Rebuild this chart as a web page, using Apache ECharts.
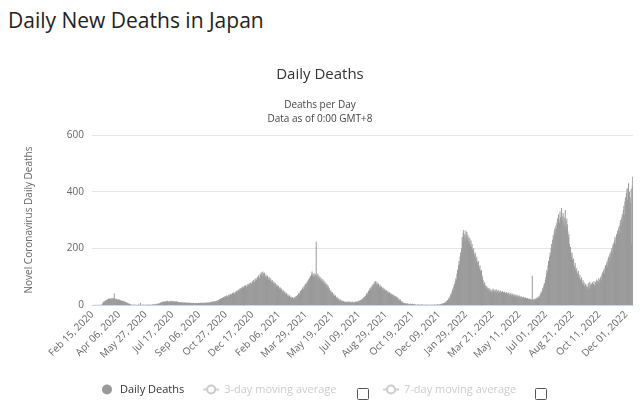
<!DOCTYPE html>
<html>
<head>
<meta charset="utf-8">
<script src="https://cdn.jsdelivr.net/npm/echarts@6/dist/echarts.min.js"></script>
<style>
  body { margin: 0; background: #fff; }
  #title { position: absolute; left: 8px; top: 6px; font: 21px "Open Sans", sans-serif; color: #222; }
  #container { width: 640px; height: 408px; }
</style>
</head>
<body>
<div id="title">Daily New Deaths in Japan</div>
<div id="container"></div>
<script>
// first day of the series
var startDate = Date.UTC(2020, 1, 15);

// daily deaths
var deaths = [
  0,0,0,1,0,0,0,1,0,0,0,1,0,1,0,0,1,0,1,
  3,6,9,12,10,14,16,12,18,15, 20,17,22,19,24,21,18,25,22,20,
  23,26,19,41,24,21,18,22,20,17, 19,16,21,18,15,17,14,16,13,15,
  12,14,11,13,10,9,11,8,7,6, 5,4,3,4,2,
  2,1,1,0,1,2,1,0,1,1, 0,1,0,1,2,1,0,1,8,1, 0,1,0,2,1,0,1,1,0,1,
  1,0,2,1,1,0,1,2,1,0, 1,2,1,3,2,1,3,2,4,3, 2,4,5,3,6,5,
  7,9,8,11,10,12,9,13,11,10, 12,14,11,13,15,12,10,13,14,11,
  12,15,13,11,14,12,10,13,11,12, 10,13,11,9,12,10,11,8,10,9,
  11,8,9,10,7,9,8,10,7,8, 9,7,8,6,9,7,8,6,7,8, 6,7,5,8,6,7,5,6,8,6, 7,5,6,8,6,7,
  6,8,5,7,9,6,8,7,5,9, 7,8,6,9,7,10,8,6,9,11, 8,10,12,9,11,13,10,12,14,11, 13,15,12,16,
  14,18,16,20,17,22,19,24,21,26, 23,28,25,30,27,32,29,34,31,28,
  33,36,30,38,35,40,37,33,42,39, 44,41,38,46,43,50,47,44,52,49,55,51,58,
  54,60,57,63,59,66,62,58,68,64, 70,66,62,72,68,75,71,67,78,74,
  80,76,72,84,79,88,83,78,92,86, 95,89,84,100,94,105,98,92,
  110,104,116,108,100,118,112,106,114,103,
  98,108,100,93,104,96,88,99,91,84, 94,86,79,88,81,74,83,76,70,78,
  71,65,73,66,60,68,61,56,63,57, 52,58,50,45,53,47,42,48,41,37,
  43,36,32,38,31,28,34,29,25,30, 26,23,28,24,21,27,25,30,26,32,29,
  35,31,38,42,37,45,50,44,54,48, 58,63,56,68,62,74,70,78,72,84, 80,90,86,96,92,102,98,108,
  118,105,110,100,112,104,96,108,223,102, 98,110,95,104,92,100,88,96,85,92,
  82,90,78,86,74,80,70,76,66,72, 62,68,56,60,50,
  47,52,44,40,46,38,34,40,32,28, 34,27,24,29,22,19,24,18,16,20,
  15,12,17,13,10,14,11,9,13,10, 12,8,11,9,13,10,8,12,9,11,
  8,10,12,9,7,11,10,8,12,9, 11,13,10,14,12,16,13,
  15,18,16,20,22,19,25,28,24,30, 33,29,38,42,36,45,50,44,55,60,
  52,64,58,70,66,74,68,80,72,85, 78,70,82,74,66,76,68,62,72,64,
  58,66,60,54,62,55,50,57,52,46, 53,47,43,49,44,40,45,41,36,42,
  37,33,38,34,30,35,31,27,32,28, 24,28,22,19,23,17,15,19,13,11,14,9,7,
  8,6,5,7,4,5,3,6,4,3, 4,2,3,5,2,3,1,4,2,3, 2,1,3,2,1,0,2,1,3,1,
  0,2,1,1,0,3,1,2,0,1, 1,0,2,1,0,1,2,0,1,1, 0,1,1,0,2,1,0,1,1,2,
  1,0,2,1,1,3,1,2,1,2, 3,2,4,3,5,4,6,5,8,7,
  10,12,9,15,18,14,22,26,20,30, 35,42,38,50,58,52,66,75,68,85,
  95,88,110,124,115,140,155,145,170,185, 175,200,
  240,225,255,265,238,250,228,262,245,258,232,248,225,240,218,235,210,
  228,205,215,196,190,200,180,172,185,165, 158,170,150,142,155,135,128,140,120,112, 124,105,98,88,
  75,68,80,62,70,58,66,55,62,52, 60,50,57,48,55,46,52,44,58,50,
  54,45,52,47,56,43,50,46,53,42, 48,44,51,40,47,42,49,38,45,41,
  47,37,43,39,46,35,42,38,44,34, 40,36,43,32,38,35,41,30,36,33,
  38,29,34,31,36,27,32,29,34,25, 30,26,31,23,28,25,29,21,26,23, 27,20,24,21,25,18,22,19,23,
  18,21,17,20,103,19,16,20,18,22, 19,24,21,26,23,28,25,32,29,36,
  40,46,42,52,60,55,68,78,72,88, 98,110,124,118,140,155,148,170,185,176,
  200,215,205,230,247,238,260,270,255,280, 268,290,
  305,285,320,300,290,330,310,295,342,315,300,325,290,310,280,335,298,275,305,285,
  260,240,250,215,190,205,183,170,185,160, 150,165,140,132,148,125,118,130,113,108,
  120,100,95,108,90,86,98,80,77,88,
  72,80,68,62,75,58,70,64,55,78, 66,60,82,72,58,76,68,80,62,74,
  85,70,66,82,76,90,72,86,80,94, 78,88,
  94,100,86,108,115,98,120,126,110,132, 140,125,147,155,136,162,170,150,178,185,
  165,192,200,182,210,218,198,228,241,215, 235,250,228,262,241,270,280,255,290,300,
  275,310,320,292,335,350,318,365,380,340, 395,410,370,413,430,385,400,380,360,410,
  218,420,453
];

var months = ['Jan','Feb','Mar','Apr','May','Jun','Jul','Aug','Sep','Oct','Nov','Dec'];
var dates = deaths.map(function (v, i) {
    var d = new Date(startDate + i * 86400000);
    var day = d.getUTCDate();
    return months[d.getUTCMonth()] + ' ' + (day < 10 ? '0' + day : day) + ', ' + d.getUTCFullYear();
});

var myChart = echarts.init(document.getElementById('container'));
var font = '"Open Sans", "DejaVu Sans", sans-serif';

var legendBase = {
    bottom: 8,
    itemWidth: 16,
    itemHeight: 10,
    textStyle: { fontSize: 11, color: '#333' },
    inactiveColor: '#ccc',
    selected: { '3-day moving average': false, '7-day moving average': false }
};

var option = {
    animation: false,
    textStyle: { fontFamily: font },
    title: [{
        text: 'Daily Deaths',
        left: 'center',
        top: 62,
        textStyle: { fontSize: 15, fontWeight: 'normal', color: '#333' }
    }, {
        text: 'Deaths per Day\nData as of 0:00 GMT+8',
        left: 'center',
        top: 93,
        textStyle: { fontSize: 10, fontWeight: 'normal', color: '#444', lineHeight: 14 }
    }],
    legend: [
        Object.assign({}, legendBase, {
            left: 97,
            itemGap: 18,
            data: [{ name: 'Daily Deaths', icon: 'circle' }, { name: '3-day moving average' }]
        }),
        Object.assign({}, legendBase, {
            left: 377,
            data: [{ name: '7-day moving average' }]
        })
    ],
    graphic: [
        { type: 'rect', left: 357, top: 388, shape: { width: 11, height: 11, r: 1 }, style: { fill: '#fff', stroke: '#555', lineWidth: 1 } },
        { type: 'rect', left: 535, top: 388, shape: { width: 11, height: 11, r: 1 }, style: { fill: '#fff', stroke: '#555', lineWidth: 1 } }
    ],
    grid: { left: 92, right: 7, top: 135, bottom: 103 },
    xAxis: {
        type: 'category',
        data: dates,
        axisLine: { lineStyle: { color: '#ccd6eb' } },
        axisTick: { show: false },
        axisLabel: { interval: 50, rotate: 45, fontSize: 10, color: '#666', margin: 8 }
    },
    yAxis: {
        type: 'value',
        min: 0,
        max: 600,
        interval: 200,
        name: 'Novel Coronavirus Daily Deaths',
        nameLocation: 'middle',
        nameGap: 58,
        nameTextStyle: { fontSize: 10, color: '#666' },
        axisLabel: { fontSize: 10, color: '#666' },
        splitLine: { lineStyle: { color: '#e6e6e6' } }
    },
    series: [
        {
            name: 'Daily Deaths',
            type: 'bar',
            data: deaths,
            barCategoryGap: '10%',
            itemStyle: { color: '#999' }
        },
        { name: '3-day moving average', type: 'line', data: [], itemStyle: { color: '#999' } },
        { name: '7-day moving average', type: 'line', data: [], itemStyle: { color: '#999' } }
    ]
};

myChart.setOption(option);
</script>
</body>
</html>
